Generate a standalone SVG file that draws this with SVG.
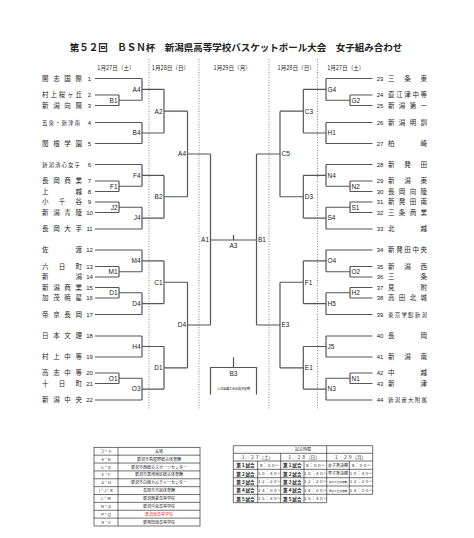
<svg xmlns="http://www.w3.org/2000/svg" width="474" height="538" viewBox="0 0 474 538">
<style>
.ln{stroke:#555;stroke-width:1.2;fill:none}
.dot{stroke:#666;stroke-width:0.8;stroke-dasharray:1 1.6;fill:none}
.nm{font-family:"Noto Sans CJK JP",sans-serif;font-size:6.5px;fill:#222}
.sm{font-family:"Noto Sans CJK JP",sans-serif;font-size:5.5px;fill:#222}
.num{font-family:"Liberation Sans",sans-serif;font-size:6px;fill:#222;text-anchor:middle}
.lb{font-family:"Liberation Sans",sans-serif;font-size:6.5px;fill:#222}
.lbl{text-anchor:end}
.dt{font-family:"Noto Sans CJK JP",sans-serif;font-size:5.6px;fill:#222;text-anchor:middle}
.tb{stroke:#333;stroke-width:0.7;fill:none}
.tt{font-family:"Noto Sans CJK JP",sans-serif;font-size:4px;fill:#222;text-anchor:middle}
.tb5{font-family:"Noto Sans CJK JP",sans-serif;font-size:4.6px;fill:#222;text-anchor:middle;font-weight:bold}
</style>
<rect width="474" height="538" fill="#fff"/>
<text x="236" y="51" font-family="Noto Sans CJK JP, sans-serif" font-size="9.5" font-weight="bold" text-anchor="middle" fill="#222">第５２回　ＢＳＮ杯　新潟県高等学校バスケットボール大会　女子組み合わせ</text>
<g id="dates">
<text class="dt" x="116" y="69.5">1月27日（土）</text>
<text class="dt" x="170.5" y="69.5">1月28日（日）</text>
<text class="dt" x="232.2" y="69.5">1月29日（月）</text>
<text class="dt" x="296.2" y="69.5">1月28日（日）</text>
<text class="dt" x="345.8" y="69.5">1月27日（土）</text>
</g>
<g id="day-dividers">
<line class="dot" x1="149" y1="59" x2="149" y2="410"/>
<line class="dot" x1="199" y1="59" x2="199" y2="410"/>
<line class="dot" x1="269" y1="59" x2="269" y2="410"/>
<line class="dot" x1="317.5" y1="59" x2="317.5" y2="410"/>
</g>
<g id="connectors">
<path class="ln" d="M95,78.5H142M95,95H119M95,105.5H119M95,122.5H142M95,143.5H142M95,164.5H142M95,181H119M95,191.5H119M95,202H119M95,212.5H119M95,229H142M95,250H142M95,266.5H119M95,277H119M95,287.5H119M95,298H119M95,314.5H142M95,336H142M95,357H142M95,373H119M95,383.5H119M95,400H142"/>
<path class="ln" d="M119,95V105.5M119,100.25H142M142,78.5V100.25M142,89.4H164M142,122.5V143.5M142,133H164M164,89.4V133M164,111.2H187.5M119,181V191.5M119,186.25H142M142,164.5V186.25M142,175.4H164M119,202V212.5M119,207.25H142M142,207.25V229M142,218.1H164M164,175.4V218.1M164,196.75H187.5M187.5,111.2V196.75M187.5,154H210.5"/>
<path class="ln" d="M119,266.5V277M119,271.75H142M142,250V271.75M142,260.9H164M119,287.5V298M119,292.75H142M142,292.75V314.5M142,303.6H164M164,260.9V303.6M164,282.25H187.5M142,336V357M142,346.5H164M119,373V383.5M119,378.25H142M142,378.25V400M142,389.1H164M164,346.5V389.1M164,367.8H187.5M187.5,282.25V367.8M187.5,325H210.5M210.5,154V325"/>
<path class="ln" d="M372.5,78.5H326M372.5,95H350M372.5,105.5H350M372.5,122.5H326M372.5,143.5H326M372.5,164.5H326M372.5,181H350M372.5,191.5H350M372.5,202H350M372.5,212.5H350M372.5,229H326M372.5,250H326M372.5,266.5H350M372.5,277H350M372.5,287.5H350M372.5,298H350M372.5,314.5H326M372.5,336H326M372.5,357H326M372.5,373H350M372.5,383.5H350M372.5,400H326"/>
<path class="ln" d="M350,95V105.5M350,100.25H326M326,78.5V100.25M326,89.4H303.3M326,122.5V143.5M326,133H303.3M303.3,89.4V133M303.3,111.2H280M350,181V191.5M350,186.25H326M326,164.5V186.25M326,175.4H303.3M350,202V212.5M350,207.25H326M326,207.25V229M326,218.1H303.3M303.3,175.4V218.1M303.3,196.75H280M280,111.2V196.75M280,154H256.5"/>
<path class="ln" d="M350,266.5V277M350,271.75H326M326,250V271.75M326,260.9H303.3M350,287.5V298M350,292.75H326M326,292.75V314.5M326,303.6H303.3M303.3,260.9V303.6M303.3,282.25H280M326,336V357M326,346.5H303.3M350,373V383.5M350,378.25H326M326,378.25V400M326,389.1H303.3M303.3,346.5V389.1M303.3,367.8H280M280,282.25V367.8M280,325H256.5M256.5,154V325"/>
<path class="ln" d="M210.5,240H256.5M233.5,235V240"/>
<path class="ln" d="M233.5,357.5V367.5M210.5,394.5V367.5H256.5V394.5"/>
</g>
<g id="match-labels">
<g id="m-left" class="lb lbl">
<text x="117.5" y="102.5">B1</text><text x="140.5" y="91.7">A4</text><text x="140.5" y="135.3">B4</text><text x="162.5" y="113.5">A2</text>
<text x="117.5" y="188.5">F1</text><text x="140.5" y="177.7">F4</text><text x="117.5" y="209.5">J2</text><text x="140.5" y="220.4">J4</text><text x="162.5" y="199">B2</text><text x="186" y="156.3">A4</text>
<text x="117.5" y="274">M1</text><text x="140.5" y="263.2">M4</text><text x="117.5" y="295">D1</text><text x="140.5" y="305.9">D4</text><text x="162.5" y="284.5">C1</text>
<text x="140.5" y="348.8">H4</text><text x="117.5" y="380.5">O1</text><text x="140.5" y="391.4">O3</text><text x="162.5" y="370.1">D1</text><text x="186" y="327.3">D4</text>
<text x="209" y="242.3">A1</text>
</g>
<g id="m-right" class="lb">
<text x="351.5" y="102.5">G2</text><text x="327.5" y="91.7">G4</text><text x="327.5" y="135.3">H1</text><text x="304.8" y="113.5">C3</text>
<text x="351.5" y="188.5">N2</text><text x="327.5" y="177.7">N4</text><text x="351.5" y="209.5">S1</text><text x="327.5" y="220.4">S4</text><text x="304.8" y="199">D3</text><text x="281.5" y="156.3">C5</text>
<text x="351.5" y="274">O2</text><text x="327.5" y="263.2">O4</text><text x="351.5" y="295">H2</text><text x="327.5" y="305.9">H5</text><text x="304.8" y="284.5">F1</text>
<text x="327.5" y="348.8">J5</text><text x="351.5" y="380.5">N1</text><text x="327.5" y="391.4">N3</text><text x="304.8" y="370.1">E1</text><text x="281.5" y="327.3">E3</text>
<text x="258" y="242.3">B1</text>
</g>
<g id="final"><text class="lb" x="233.5" y="247.5" text-anchor="middle">A3</text></g>
<g id="third"><text class="lb" x="233.5" y="376" text-anchor="middle">B3</text>
<text x="233.5" y="390" font-family="Noto Sans CJK JP, sans-serif" font-size="3" text-anchor="middle" fill="#222">※北信越大会出場決定戦</text></g>
</g>
<g id="teams-left">
<g id="t1"><text class="nm" x="42 53.17 64.33 75.5" y="80.9">開志国際</text><text class="num" x="89.5" y="80.6">1</text></g>
<g id="t2"><text class="nm" x="42 50.38 58.75 67.13 75.5" y="97.4">村上桜ヶ丘</text><text class="num" x="89.5" y="97.1">2</text></g>
<g id="t3"><text class="nm" x="42 53.17 64.33 75.5" y="107.9">新潟向陽</text><text class="num" x="89.5" y="107.6">3</text></g>
<g id="t4"><text class="sm" x="42 48.5 55 61.5 68 74.5" y="124.5">五泉・新津南</text><text class="num" x="89.5" y="124.6">4</text></g>
<g id="t5"><text class="nm" x="42 53.17 64.33 75.5" y="145.9">関根学園</text><text class="num" x="89.5" y="145.6">5</text></g>
<g id="t6"><text class="sm" x="42 48.5 55 61.5 68 74.5" y="166.5">新潟清心女子</text><text class="num" x="89.5" y="166.6">6</text></g>
<g id="t7"><text class="nm" x="42 53.17 64.33 75.5" y="183.4">長岡商業</text><text class="num" x="89.5" y="183.1">7</text></g>
<g id="t8"><text class="nm" x="42 75.5" y="193.9">上越</text><text class="num" x="89.5" y="193.6">8</text></g>
<g id="t9"><text class="nm" x="42 58.75 75.5" y="204.4">小千谷</text><text class="num" x="89.5" y="204.1">9</text></g>
<g id="t10"><text class="nm" x="42 53.17 64.33 75.5" y="214.9">新潟青陵</text><text class="num" x="89.5" y="214.6">10</text></g>
<g id="t11"><text class="nm" x="42 53.17 64.33 75.5" y="231.4">長岡大手</text><text class="num" x="89.5" y="231.1">11</text></g>
<g id="t12"><text class="nm" x="42 75.5" y="252.4">佐渡</text><text class="num" x="89.5" y="252.1">12</text></g>
<g id="t13"><text class="nm" x="42 58.75 75.5" y="268.9">六日町</text><text class="num" x="89.5" y="268.6">13</text></g>
<g id="t14"><text class="nm" x="42 75.5" y="279.4">新潟</text><text class="num" x="89.5" y="279.1">14</text></g>
<g id="t15"><text class="nm" x="42 53.17 64.33 75.5" y="289.9">新潟商業</text><text class="num" x="89.5" y="289.6">15</text></g>
<g id="t16"><text class="nm" x="42 53.17 64.33 75.5" y="300.4">加茂暁星</text><text class="num" x="89.5" y="300.1">16</text></g>
<g id="t17"><text class="nm" x="42 53.17 64.33 75.5" y="316.9">帝京長岡</text><text class="num" x="89.5" y="316.6">17</text></g>
<g id="t18"><text class="nm" x="42 53.17 64.33 75.5" y="338.4">日本文理</text><text class="num" x="89.5" y="338.1">18</text></g>
<g id="t19"><text class="nm" x="42 53.17 64.33 75.5" y="359.4">村上中等</text><text class="num" x="89.5" y="359.1">19</text></g>
<g id="t20"><text class="nm" x="42 53.17 64.33 75.5" y="375.4">高志中等</text><text class="num" x="89.5" y="375.1">20</text></g>
<g id="t21"><text class="nm" x="42 58.75 75.5" y="385.9">十日町</text><text class="num" x="89.5" y="385.6">21</text></g>
<g id="t22"><text class="nm" x="42 53.17 64.33 75.5" y="402.4">新潟中央</text><text class="num" x="89.5" y="402.1">22</text></g>
</g>
<g id="teams-right">
<g id="t23"><text class="num" x="380" y="80.6">23</text><text class="nm" x="388 404.25 420.5" y="80.9">三条東</text></g>
<g id="t24"><text class="num" x="380" y="97.1">24</text><text class="nm" x="388 396.13 404.25 412.38 420.5" y="97.4">直江津中等</text></g>
<g id="t25"><text class="num" x="380" y="107.6">25</text><text class="nm" x="388 398.83 409.67 420.5" y="107.9">新潟第一</text></g>
<g id="t26"><text class="num" x="380" y="124.6">26</text><text class="nm" x="388 398.83 409.67 420.5" y="124.9">新潟明訓</text></g>
<g id="t27"><text class="num" x="380" y="145.6">27</text><text class="nm" x="388 420.5" y="145.9">柏崎</text></g>
<g id="t28"><text class="num" x="380" y="166.6">28</text><text class="nm" x="388 404.25 420.5" y="166.9">新発田</text></g>
<g id="t29"><text class="num" x="380" y="183.1">29</text><text class="nm" x="388 404.25 420.5" y="183.4">新潟東</text></g>
<g id="t30"><text class="num" x="380" y="193.6">30</text><text class="nm" x="388 398.83 409.67 420.5" y="193.9">長岡向陵</text></g>
<g id="t31"><text class="num" x="380" y="204.1">31</text><text class="nm" x="388 398.83 409.67 420.5" y="204.4">新発田南</text></g>
<g id="t32"><text class="num" x="380" y="214.6">32</text><text class="nm" x="388 398.83 409.67 420.5" y="214.9">三条商業</text></g>
<g id="t33"><text class="num" x="380" y="231.1">33</text><text class="nm" x="388 420.5" y="231.4">北越</text></g>
<g id="t34"><text class="num" x="380" y="252.1">34</text><text class="nm" x="388 396.13 404.25 412.38 420.5" y="252.4">新発田中央</text></g>
<g id="t35"><text class="num" x="380" y="268.6">35</text><text class="nm" x="388 404.25 420.5" y="268.9">新潟西</text></g>
<g id="t36"><text class="num" x="380" y="279.1">36</text><text class="nm" x="388 420.5" y="279.4">三条</text></g>
<g id="t37"><text class="num" x="380" y="289.6">37</text><text class="nm" x="388 420.5" y="289.9">見附</text></g>
<g id="t38"><text class="num" x="380" y="300.1">38</text><text class="nm" x="388 398.83 409.67 420.5" y="300.4">高田北城</text></g>
<g id="t39"><text class="num" x="380" y="316.6">39</text><text class="sm" x="388 394.7 401.4 408.1 414.8 421.5" y="316.5">東京学館新潟</text></g>
<g id="t40"><text class="num" x="380" y="338.1">40</text><text class="nm" x="388 420.5" y="338.4">長岡</text></g>
<g id="t41"><text class="num" x="380" y="359.1">41</text><text class="nm" x="388 404.25 420.5" y="359.4">新潟南</text></g>
<g id="t42"><text class="num" x="380" y="375.1">42</text><text class="nm" x="388 420.5" y="375.4">中越</text></g>
<g id="t43"><text class="num" x="380" y="385.6">43</text><text class="nm" x="388 420.5" y="385.9">新津</text></g>
<g id="t44"><text class="num" x="380" y="402.1">44</text><text class="sm" x="388 394.7 401.4 408.1 414.8 421.5" y="402">新潟産大附属</text></g>
</g>
<g id="venue-table">
<rect class="tb" x="94" y="447.3" width="106" height="78.7"/>
<path class="tb" d="M118,447.3V526M94,455.17H200M94,463.04H200M94,470.91H200M94,478.78H200M94,486.65H200M94,494.52H200M94,502.39H200M94,510.26H200M94,518.13H200"/>
<g class="tt">
<text x="106" y="452.8">コート</text><text x="159" y="452.8">会場</text>
<text x="106" y="460.7">A・B</text><text x="159" y="460.7">新潟市鳥屋野総合体育館</text>
<text x="106" y="468.5">C・D</text><text x="159" y="468.5">新潟市西総合スポーツセンター</text>
<text x="106" y="476.4">E・F</text><text x="159" y="476.4">新潟市黒埼地区総合体育館</text>
<text x="106" y="484.3">G・H</text><text x="159" y="484.3">新潟市白根カルチャーセンター</text>
<text x="106" y="492.1">I・J・K</text><text x="159" y="492.1">長岡市市民体育館</text>
<text x="106" y="500">L・M</text><text x="159" y="500">新潟商業高等学校</text>
<text x="106" y="507.9">N・O</text><text x="159" y="507.9">新潟中央高等学校</text>
<text x="106" y="515.8">P・Q</text><text x="159" y="515.8" fill="#d33">新潟南高等学校</text>
<text x="106" y="523.6">R・S</text><text x="159" y="523.6">新発田南高等学校</text>
</g>
</g>
<g id="time-table">
<path class="tb" d="M233.3,445.7H372.7V494.3M233.3,445.7V502.7H326.7V445.7M233.3,453.3H372.7M233.3,461H372.7M233.3,469.3H372.7M233.3,477.7H372.7M233.3,486H372.7M233.3,494.3H372.7M280.7,453.3V502.7M257.7,461V502.7M304,461V502.7M349.3,461V494.3"/>
<text class="tt" x="303" y="451.2">試合時間</text>
<g class="tb5" font-weight="normal">
<text x="257" y="459" font-weight="normal">１／２７（土）</text><text x="303.7" y="459" font-weight="normal">１／２８（日）</text><text x="350" y="459" font-weight="normal">１／２９（月）</text>
</g>
<g class="tb5">
<text x="245.5" y="467.1">第１試合</text><text x="245.5" y="475.5">第２試合</text><text x="245.5" y="483.8">第３試合</text><text x="245.5" y="492.1">第４試合</text><text x="245.5" y="500.5">第５試合</text>
<text x="292.3" y="467.1">第１試合</text><text x="292.3" y="475.5">第２試合</text><text x="292.3" y="483.8">第３試合</text><text x="292.3" y="492.1">第４試合</text><text x="292.3" y="500.5">第５試合</text>
</g>
<g class="tt" font-size="3.4">
<text x="269.2" y="466.7">９：００～</text><text x="269.2" y="475.1">１０：４０～</text><text x="269.2" y="483.4">１２：２０～</text><text x="269.2" y="491.7">１４：００～</text><text x="269.2" y="500.1">１５：４０～</text>
<text x="315.3" y="466.7">９：００～</text><text x="315.3" y="475.1">１０：４０～</text><text x="315.3" y="483.4">１２：２０～</text><text x="315.3" y="491.7">１４：００～</text><text x="315.3" y="500.1">１５：４０～</text>
<text x="338" y="466.7">女子準決勝</text><text x="338" y="475.1">男子準決勝</text><text x="338" y="483.4" font-size="2.6">女子３位決定戦</text><text x="338" y="491.7" font-size="2.6">男子３位決定戦</text>
<text x="361" y="466.7">９：００～</text><text x="361" y="475.1">１０：４０～</text><text x="361" y="483.4">１２：２０～</text><text x="361" y="491.7">１４：００～</text>
</g>
</g>
</svg>
